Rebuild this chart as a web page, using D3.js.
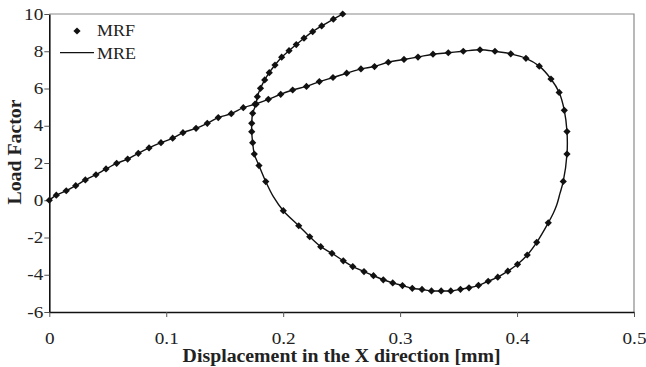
<!DOCTYPE html>
<html lang="en">
<head>
<meta charset="utf-8">
<title>Load factor vs displacement</title>
<script src="https://cdnjs.cloudflare.com/ajax/libs/d3/7.8.5/d3.min.js"></script>
<style>
  body { margin: 0; background: #fff; }
  text { font-family: "Liberation Serif", "Times New Roman", serif; fill: #222; }
</style>
</head>
<body>
<script>
// data
var seriesNames = ["MRF", "MRE"];

var mrfX = [0, 0.0060, 0.0145, 0.0226, 0.0308, 0.0399, 0.0485, 0.0576, 0.0670, 0.0761,
  0.0853, 0.0955, 0.1055, 0.1143, 0.1255, 0.1351, 0.1445, 0.1556, 0.1659, 0.1759,
  0.1873, 0.1979, 0.2081, 0.2199, 0.2309, 0.2426, 0.2543, 0.2665, 0.2781, 0.2899,
  0.3033, 0.3153, 0.3281, 0.3412, 0.3540, 0.3683, 0.3811, 0.3946, 0.4076, 0.4190,
  0.4290, 0.4360, 0.4404, 0.4427, 0.4427, 0.4395, 0.4267, 0.4168, 0.4087, 0.4004,
  0.3921, 0.3835, 0.3753, 0.3670, 0.3589, 0.3516, 0.3433, 0.3351, 0.3268, 0.3187,
  0.3104, 0.3020, 0.2937, 0.2856, 0.2772, 0.2691, 0.2595, 0.2514, 0.2417, 0.2321,
  0.2227, 0.2133, 0.2001, 0.1851, 0.1793, 0.1753, 0.1739, 0.1731, 0.1731, 0.1739,
  0.1768, 0.1779, 0.1806, 0.1842, 0.1881, 0.1930, 0.1987, 0.2050, 0.2112, 0.2178,
  0.2252, 0.2329, 0.2429, 0.2509];
var mrfY = [0, 0.27, 0.51, 0.78, 1.09, 1.37, 1.68, 1.98, 2.21, 2.52,
  2.81, 3.09, 3.33, 3.63, 3.86, 4.13, 4.44, 4.65, 4.97, 5.16,
  5.42, 5.69, 5.92, 6.11, 6.37, 6.59, 6.82, 7.05, 7.18, 7.41,
  7.56, 7.69, 7.84, 7.92, 8.00, 8.08, 8.00, 7.86, 7.62, 7.20,
  6.51, 5.79, 4.83, 3.69, 2.48, 1.01, -1.21, -2.26, -2.94, -3.44,
  -3.81, -4.13, -4.35, -4.57, -4.70, -4.78, -4.87, -4.87, -4.87, -4.79,
  -4.73, -4.58, -4.44, -4.27, -4.05, -3.83, -3.56, -3.25, -2.85, -2.49,
  -1.96, -1.37, -0.56, 1.00, 1.86, 2.48, 3.09, 3.68, 4.13, 4.67,
  5.16, 5.56, 6.01, 6.46, 6.85, 7.26, 7.68, 8.03, 8.36, 8.70,
  9.05, 9.36, 9.72, 10.00];

var mreX = [0, 0.0060, 0.0145, 0.0226, 0.0308, 0.0399, 0.0485, 0.0576, 0.0670, 0.0761,
  0.0853, 0.0955, 0.1055, 0.1143, 0.1255, 0.1351, 0.1445, 0.1556, 0.1659, 0.1759,
  0.1873, 0.1979, 0.2081, 0.2199, 0.2309, 0.2426, 0.2543, 0.2665, 0.2781, 0.2899,
  0.3033, 0.3153, 0.3281, 0.3412, 0.3540, 0.3683, 0.3811, 0.3946, 0.4076, 0.4190,
  0.4290, 0.4360, 0.4404, 0.4427, 0.4427, 0.4395, 0.4367, 0.4339, 0.4310, 0.4267,
  0.4168, 0.4087, 0.4004, 0.3921, 0.3835, 0.3753, 0.3670, 0.3589, 0.3516, 0.3433,
  0.3351, 0.3268, 0.3187, 0.3104, 0.3020, 0.2937, 0.2856, 0.2772, 0.2691, 0.2595,
  0.2514, 0.2417, 0.2321, 0.2227, 0.2133, 0.2001, 0.1916, 0.1851, 0.1793, 0.1753,
  0.1739, 0.1731, 0.1731, 0.1739, 0.1768, 0.1779, 0.1806, 0.1842, 0.1881, 0.1930,
  0.1987, 0.2050, 0.2112, 0.2178, 0.2252, 0.2329, 0.2429, 0.2509];
var mreY = [0, 0.27, 0.51, 0.78, 1.09, 1.37, 1.68, 1.98, 2.21, 2.52,
  2.81, 3.09, 3.33, 3.63, 3.86, 4.13, 4.44, 4.65, 4.97, 5.16,
  5.42, 5.69, 5.92, 6.11, 6.37, 6.59, 6.82, 7.05, 7.18, 7.41,
  7.56, 7.69, 7.84, 7.92, 8.00, 8.08, 8.00, 7.86, 7.62, 7.20,
  6.51, 5.79, 4.83, 3.69, 2.48, 1.01, 0.37, -0.26, -0.70, -1.21,
  -2.26, -2.94, -3.44, -3.81, -4.13, -4.35, -4.57, -4.70, -4.78, -4.87,
  -4.87, -4.87, -4.79, -4.73, -4.58, -4.44, -4.27, -4.05, -3.83, -3.56,
  -3.25, -2.85, -2.49, -1.96, -1.37, -0.56, 0.19, 1.00, 1.86, 2.48,
  3.09, 3.68, 4.13, 4.67, 5.16, 5.56, 6.01, 6.46, 6.85, 7.26,
  7.68, 8.03, 8.36, 8.70, 9.05, 9.36, 9.72, 10.00];

var xTicks = [0, 0.1, 0.2, 0.3, 0.4, 0.5];
var xTickLabels = ["0", "0.1", "0.2", "0.3", "0.4", "0.5"];
var yTicks = [-6, -4, -2, 0, 2, 4, 6, 8, 10];
var yTickLabels = ["-6", "-4", "-2", "0", "2", "4", "6", "8", "10"];

var w = 646, h = 367;
var padLeft = 49.3, padRight = 634, padTop = 14, padBottom = 312;

var svg = d3.select("body").append("svg")
  .attr("width", w)
  .attr("height", h);

var x = d3.scaleLinear().domain([0, 0.5]).range([padLeft, padRight]);
var y = d3.scaleLinear().domain([-6, 10]).range([padBottom, padTop]);

// top and right border of the plot area (grey)
svg.append("path")
  .attr("d", "M" + padLeft + "," + padTop + "H" + padRight + "V" + padBottom)
  .attr("fill", "none")
  .attr("stroke", "#8a8a8a")
  .attr("stroke-width", 1.2);

// stretch text a bit, the original glyphs are wide
function widen(sel, k) {
  sel.each(function() {
    var len = this.getComputedTextLength();
    d3.select(this).attr("textLength", len * k).attr("lengthAdjust", "spacingAndGlyphs");
  });
}

var xAxis = d3.axisBottom(x)
  .tickValues(xTicks)
  .tickFormat(function(d, i) { return xTickLabels[i]; })
  .tickSize(5)
  .tickSizeOuter(0)
  .tickPadding(16);

var gx = svg.append("g")
  .attr("transform", "translate(0," + padBottom + ")")
  .call(xAxis);
gx.select(".domain").attr("stroke", "#111").attr("stroke-width", 1.6);
gx.selectAll(".tick line").attr("stroke", "#555");
gx.selectAll("text")
  .attr("font-family", "Liberation Serif")
  .attr("font-size", 16)
  .attr("fill", "#333");
widen(gx.selectAll("text"), 1.2);

var yAxis = d3.axisLeft(y)
  .tickValues(yTicks)
  .tickFormat(function(d, i) { return yTickLabels[i]; })
  .tickSize(5)
  .tickSizeOuter(0)
  .tickPadding(1);

var gy = svg.append("g")
  .attr("transform", "translate(" + padLeft + ",0)")
  .call(yAxis);
gy.select(".domain").attr("stroke", "#111").attr("stroke-width", 1.6);
gy.selectAll(".tick line").attr("stroke", "#555");
gy.selectAll("text")
  .attr("font-family", "Liberation Serif")
  .attr("font-size", 16)
  .attr("fill", "#333");
widen(gy.selectAll("text"), 1.2);

// axis titles
var xt = svg.append("text")
  .attr("x", (padLeft + padRight) / 2)
  .attr("y", 362)
  .attr("text-anchor", "middle")
  .attr("font-weight", "bold")
  .attr("font-size", 18)
  .text("Displacement in the X direction [mm]");
widen(xt, 1.1);

var yt = svg.append("text")
  .attr("transform", "translate(21," + 152 + ") rotate(-90)")
  .attr("text-anchor", "middle")
  .attr("font-weight", "bold")
  .attr("font-size", 18)
  .text("Load Factor");
widen(yt, 1.1);

// MRE line
var mre = mreX.map(function(d, i) { return [d, mreY[i]]; });
var line = d3.line()
  .x(function(d) { return x(d[0]); })
  .y(function(d) { return y(d[1]); })
  .curve(d3.curveCatmullRom.alpha(0.5));

svg.append("path")
  .datum(mre)
  .attr("d", line)
  .attr("fill", "none")
  .attr("stroke", "#111")
  .attr("stroke-width", 1.4);

// MRF markers (diamonds)
var mrf = mrfX.map(function(d, i) { return [d, mrfY[i]]; });
var diamond = d3.symbol().type(d3.symbolSquare).size(26);

svg.selectAll(".mrf")
  .data(mrf)
  .enter()
  .append("path")
  .attr("class", "mrf")
  .attr("d", diamond)
  .attr("transform", function(d) {
    return "translate(" + x(d[0]) + "," + y(d[1]) + ") rotate(45)";
  })
  .attr("fill", "#111");

// legend
var lg = svg.append("g");
lg.append("path")
  .attr("d", diamond)
  .attr("transform", "translate(77,31) rotate(45)")
  .attr("fill", "#111");
lg.append("line")
  .attr("x1", 60).attr("x2", 94)
  .attr("y1", 52.7).attr("y2", 52.7)
  .attr("stroke", "#111")
  .attr("stroke-width", 1.3);
var lt = lg.selectAll(".lt")
  .data(seriesNames)
  .enter()
  .append("text")
  .attr("class", "lt")
  .attr("x", 97)
  .attr("y", function(d, i) { return 36 + i * 23.3; })
  .attr("font-size", 16)
  .attr("fill", "#333")
  .text(function(d) { return d; });
widen(lt, 1.12);
</script>
</body>
</html>
